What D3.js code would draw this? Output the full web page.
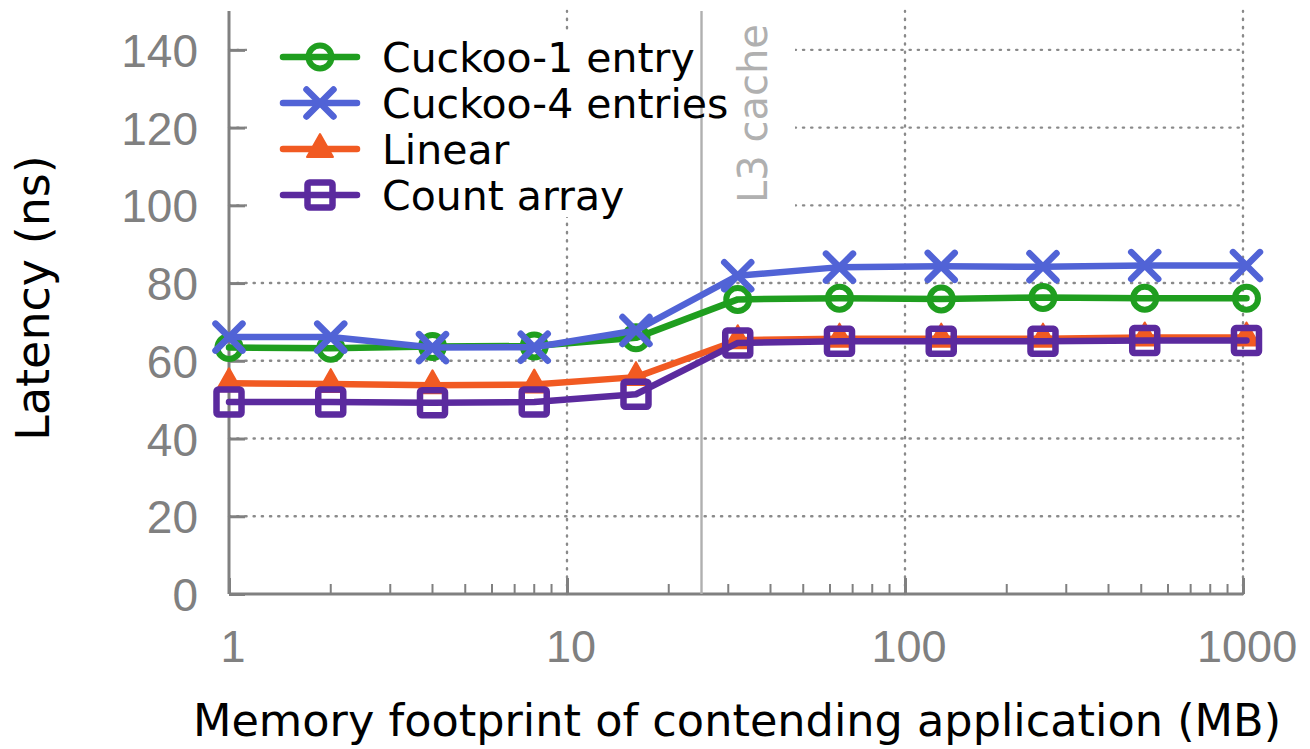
<!DOCTYPE html>
<html>
<head>
<meta charset="utf-8">
<script src="https://cdn.jsdelivr.net/npm/d3@7"></script>
<style>
  html, body { margin: 0; padding: 0; background: #fff; }
  svg { display: block; font-family: "DejaVu Sans", sans-serif; }
</style>
</head>
<body>
<svg id="chart" width="1310" height="749"></svg>
<script>
// Memory footprint of the contending application (MB)
const footprints = [1, 2, 4, 8, 16, 32, 64, 128, 256, 512, 1024];

// Lookup latency (ns) per table layout
const cuckoo1 = [63.4, 63.2, 63.7, 63.8, 65.9, 75.8, 76.1, 75.9, 76.3, 76.1, 76.1];
const cuckoo4 = [66.1, 66.1, 63.4, 63.5, 67.8, 81.9, 84.1, 84.3, 84.2, 84.5, 84.5];
const linear  = [54.2, 54.0, 53.7, 53.9, 55.8, 65.3, 65.7, 65.7, 65.7, 66.0, 66.0];
const countArray = [49.4, 49.4, 49.2, 49.4, 51.4, 64.6, 65.0, 65.0, 65.0, 65.2, 65.2];

const seriesNames = ["Cuckoo-1 entry", "Cuckoo-4 entries", "Linear", "Count array"];
const seriesColors = ["#1f9e1f", "#5163d6", "#f15a22", "#5b2a9e"];
const seriesMarkers = ["circle", "cross", "triangle", "square"];

const yTicks = [0, 20, 40, 60, 80, 100, 120, 140];
const xTicks = [1, 10, 100, 1000];
const l3CacheMB = 25;

const svg = d3.select("#chart");
const axisColor = "#808080";
const gridColor = "#8a8a8a";

const x = d3.scaleLog().domain([1, 1000]).range([229, 1243]);
const y = d3.scaleLinear().domain([0, 150]).range([594, 11]);

const series = seriesNames.map((name, i) => ({
  name,
  color: seriesColors[i],
  marker: seriesMarkers[i],
  values: [cuckoo1, cuckoo4, linear, countArray][i].map((v, j) => ({ x: footprints[j], y: v }))
}));

// dotted grid
const grid = svg.append("g");
yTicks.filter(t => t > 0).forEach(t => {
  grid.append("line")
    .attr("x1", x(1)).attr("x2", x(1000))
    .attr("y1", y(t)).attr("y2", y(t))
    .attr("stroke", gridColor).attr("stroke-width", 2.4)
    .attr("stroke-dasharray", "1.2 7").attr("stroke-linecap", "round");
});
xTicks.filter(t => t > 1).forEach(t => {
  grid.append("line")
    .attr("x1", x(t)).attr("x2", x(t))
    .attr("y1", y(0)).attr("y2", y(150))
    .attr("stroke", gridColor).attr("stroke-width", 2.4)
    .attr("stroke-dasharray", "1.2 7").attr("stroke-linecap", "round");
});

// y axis
const yAxis = d3.axisLeft(y).tickValues(yTicks).tickSize(-16);
const gy = svg.append("g").attr("transform", `translate(${x(1)},0)`).call(yAxis);
gy.select(".domain").remove();
gy.selectAll(".tick line").attr("stroke", axisColor).attr("stroke-width", 3);
gy.selectAll(".tick text").attr("fill", axisColor).style("font-size", "46px")
  .attr("x", -31).attr("dy", "0.36em").attr("text-anchor", "end");
svg.append("line").attr("x1", x(1)).attr("x2", x(1))
  .attr("y1", y(150)).attr("y2", y(0))
  .attr("stroke", axisColor).attr("stroke-width", 3);

// x axis: major ticks with labels, minor ticks without
const minorTicks = [];
[1, 10, 100].forEach(d => { for (let k = 2; k <= 9; k++) minorTicks.push(d * k); });
const gx = svg.append("g").attr("transform", `translate(0,${y(0)})`);
gx.call(d3.axisBottom(x).tickValues(xTicks).tickFormat(d3.format("d")).tickSize(-16));
gx.select(".domain").remove();
gx.selectAll(".tick line").attr("stroke", axisColor).attr("stroke-width", 3);
gx.selectAll(".tick text").attr("fill", axisColor).style("font-size", "45px")
  .attr("y", 68).attr("dy", null).attr("dx", "0.08em");
gx.selectAll(".minor").data(minorTicks).enter().append("line")
  .attr("x1", d => x(d)).attr("x2", d => x(d))
  .attr("y1", 0).attr("y2", -10)
  .attr("stroke", axisColor).attr("stroke-width", 2);
svg.append("line").attr("x1", x(1)).attr("x2", x(1000))
  .attr("y1", y(0)).attr("y2", y(0))
  .attr("stroke", axisColor).attr("stroke-width", 3);

// axis titles
svg.append("text").attr("x", 737).attr("y", 736).attr("text-anchor", "middle")
  .style("font-size", "44.6px").attr("fill", "#000")
  .text("Memory footprint of contending application (MB)");
svg.append("text").attr("transform", "translate(49,298) rotate(-90)")
  .attr("text-anchor", "middle").style("font-size", "46px").attr("fill", "#000")
  .text("Latency (ns)");

// opaque key area
svg.append("rect").attr("x", 247).attr("y", 33).attr("width", 548).attr("height", 184)
  .attr("fill", "#fff");

// L3 cache boundary
svg.append("line").attr("x1", x(l3CacheMB)).attr("x2", x(l3CacheMB))
  .attr("y1", y(150)).attr("y2", y(0))
  .attr("stroke", "#b0b0b0").attr("stroke-width", 2.4);
svg.append("text").attr("transform", `translate(767,203) rotate(-90)`)
  .style("font-size", "40px").attr("fill", "#b0b0b0")
  .text("L3 cache");

function drawMarker(g, type, color) {
  if (type === "circle") {
    g.append("circle").attr("r", 11.5).attr("fill", "none")
      .attr("stroke", color).attr("stroke-width", 6);
  } else if (type === "cross") {
    const s = 13.5;
    g.append("path").attr("d", `M${-s},${-s}L${s},${s}M${-s},${s}L${s},${-s}`)
      .attr("stroke", color).attr("stroke-width", 6.5).attr("stroke-linecap", "round");
  } else if (type === "triangle") {
    g.append("path").attr("d", "M0,-15L13,8L-13,8Z").attr("fill", color)
      .attr("stroke", color).attr("stroke-width", 2).attr("stroke-linejoin", "round");
  } else if (type === "square") {
    g.append("rect").attr("x", -12.5).attr("y", -12.5).attr("width", 25).attr("height", 25)
      .attr("fill", "none").attr("stroke", color).attr("stroke-width", 6.5)
      .attr("rx", 2);
  }
}

// series lines and markers
const line = d3.line().x(d => x(d.x)).y(d => y(d.y));
series.forEach(s => {
  const g = svg.append("g");
  g.append("path").datum(s.values).attr("d", line)
    .attr("fill", "none").attr("stroke", s.color).attr("stroke-width", 6.5)
    .attr("stroke-linejoin", "round").attr("stroke-linecap", "round");
  s.values.forEach(d => {
    const m = g.append("g").attr("transform", `translate(${x(d.x)},${y(d.y)})`);
    drawMarker(m, s.marker, s.color);
  });
});

// legend
const legend = svg.append("g");
series.forEach((s, i) => {
  const ly = 57 + i * 46;
  const row = legend.append("g").attr("transform", `translate(0,${ly})`);
  row.append("line").attr("x1", 283).attr("x2", 357).attr("y1", 0).attr("y2", 0)
    .attr("stroke", s.color).attr("stroke-width", 6.5).attr("stroke-linecap", "round");
  const m = row.append("g").attr("transform", "translate(320,0)");
  drawMarker(m, s.marker, s.color);
  row.append("text").attr("x", 382).attr("y", 0).attr("dy", "0.36em")
    .style("font-size", "41px").attr("fill", "#000").text(s.name);
});
</script>
</body>
</html>
